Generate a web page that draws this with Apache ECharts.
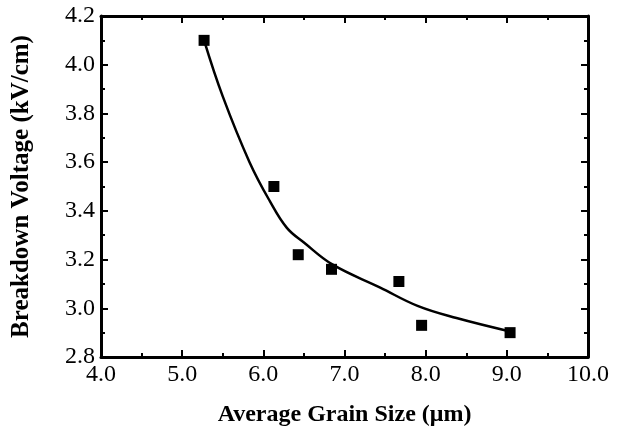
<!DOCTYPE html>
<html>
<head>
<meta charset="utf-8">
<script src="https://cdn.jsdelivr.net/npm/echarts@6/dist/echarts.min.js"></script>
<style>
  html, body { margin: 0; padding: 0; background: #fff; }
  #chart { width: 622px; height: 432px; }
</style>
</head>
<body>
<div id="chart"></div>
<script>
// Measured samples: average grain size (µm) vs breakdown voltage (kV/cm)
const grainSize = [5.27, 6.13, 6.43, 6.84, 7.67, 7.95, 9.04];
const breakdown = [4.10, 3.50, 3.22, 3.16, 3.11, 2.93, 2.90];

// Fitted trend curve through the measurements
const fitX = [5.27, 5.50, 5.83, 6.08, 6.29, 6.50, 6.85, 7.44, 7.90, 8.38, 9.04];
const fitY = [4.10, 3.87, 3.60, 3.44, 3.33, 3.27, 3.18, 3.085, 3.01, 2.96, 2.905];

const xTicks = { min: 4, max: 10, interval: 1 };
const yTicks = { min: 2.8, max: 4.2, interval: 0.2 };

const font = "'Liberation Serif', 'Times New Roman', serif";

function frameAxis(pos, range, showLabel, minorSplit) {
  return {
    type: 'value',
    position: pos,
    min: range.min,
    max: range.max,
    interval: range.interval,
    axisLine: { show: true, onZero: false, lineStyle: { color: '#000', width: 3 } },
    axisTick: { show: true, inside: true, length: 7, lineStyle: { color: '#000', width: 2 } },
    minorTick: { show: true, splitNumber: minorSplit, length: 4, lineStyle: { color: '#000', width: 2 } },
    splitLine: { show: false },
    axisLabel: {
      show: showLabel,
      color: '#000',
      fontFamily: font,
      fontSize: 24,
      formatter: v => v.toFixed(1)
    }
  };
}

const xBottom = frameAxis('bottom', xTicks, true, 2);
xBottom.axisLabel.margin = 6;
xBottom.name = 'Average Grain Size (\u03bcm)';
xBottom.nameLocation = 'middle';
xBottom.nameGap = 46;
xBottom.nameTextStyle = { color: '#000', fontFamily: font, fontSize: 24, fontWeight: 'bold' };

const yLeft = frameAxis('left', yTicks, true, 2);
yLeft.axisLabel.margin = 6;
yLeft.name = 'Breakdown Voltage (kV/cm)';
yLeft.nameLocation = 'middle';
yLeft.nameGap = 67;
yLeft.nameTextStyle = { color: '#000', fontFamily: font, fontSize: 25, fontWeight: 'bold' };

const xTop = frameAxis('top', xTicks, false, 2);
const yRight = frameAxis('right', yTicks, false, 2);

const chart = echarts.init(document.getElementById('chart'), null, { renderer: 'canvas' });
chart.setOption({
  animation: false,
  backgroundColor: '#fff',
  grid: { left: 101, right: 34, top: 16, bottom: 72 },
  xAxis: [xBottom, xTop],
  yAxis: [yLeft, yRight],
  series: [
    {
      type: 'line',
      data: fitX.map((x, i) => [x, fitY[i]]),
      smooth: 0.4,
      showSymbol: false,
      lineStyle: { color: '#000', width: 2.5 },
      z: 2
    },
    {
      type: 'scatter',
      data: grainSize.map((x, i) => [x, breakdown[i]]),
      symbol: 'rect',
      symbolSize: 11,
      itemStyle: { color: '#000', opacity: 1 },
      z: 3
    }
  ]
});
</script>
</body>
</html>
